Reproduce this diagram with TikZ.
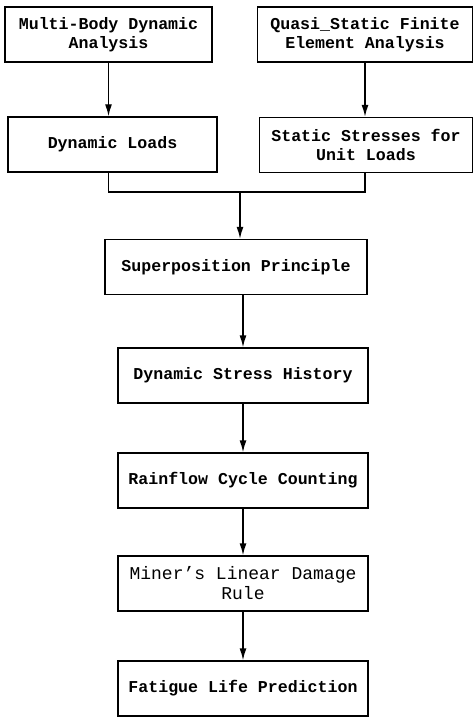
\documentclass[tikz,border=0pt]{standalone}
\usepackage{fontspec}
\newfontfamily\boxfont{Liberation Mono}
\usetikzlibrary{arrows.meta,calc,positioning}

\begin{document}
\begin{tikzpicture}[x=0.5pt,y=-0.5pt,
  blk/.style={draw,line width=0.7pt,minimum height=27.5pt,inner sep=1pt,align=center,
    font=\boxfont\bfseries\fontsize{8.3}{9.5}\selectfont},
  flow/.style={line width=0.7pt,-{Latex[length=6pt,width=3.5pt]}}]
\useasboundingbox (0,0) rectangle (474,717);

% two sources
\node[blk,minimum width=103.5pt] (mbd) at (108.5,34.5) {Multi-Body Dynamic\\Analysis};
\node[blk,minimum width=107.5pt] (fea) at (365,34.5) {Quasi\_Static Finite\\Element Analysis};
\node[blk,minimum width=104.5pt] (loads) at (112.5,144.5) {Dynamic Loads};
\node[blk,minimum width=106.5pt] (stress) at (366,145) {Static Stresses for\\Unit Loads};
\coordinate (join) at (240,192);

% main chain
\node[blk,minimum width=131pt] (super) at (236,267) {Superposition Principle};
\node[blk,minimum width=125pt] (hist) at (243,375.5) {Dynamic Stress History};
\node[blk,minimum width=125pt] (rain) at (243,480.5) {Rainflow Cycle Counting};
\node[blk,minimum width=125pt,font=\boxfont\fontsize{9}{10}\selectfont] (miner) at (243,583.5) {Miner’s Linear Damage\\Rule};
\node[blk,minimum width=125pt] (life) at (243,688.5) {Fatigue Life Prediction};

\draw[flow] (mbd) -- (mbd |- loads.north);
\draw[flow] (fea) -- (fea |- stress.north);
\draw[line width=0.7pt] (mbd |- loads.south) |- (join) -| (fea |- stress.south);
\draw[flow] (join) -- (join |- super.north);
\draw[flow] (hist.north |- super.south) -- (hist.north);
\draw[flow] (hist) -- (rain);
\draw[flow] (rain) -- (miner);
\draw[flow] (miner) -- (life);
\end{tikzpicture}
\end{document}
